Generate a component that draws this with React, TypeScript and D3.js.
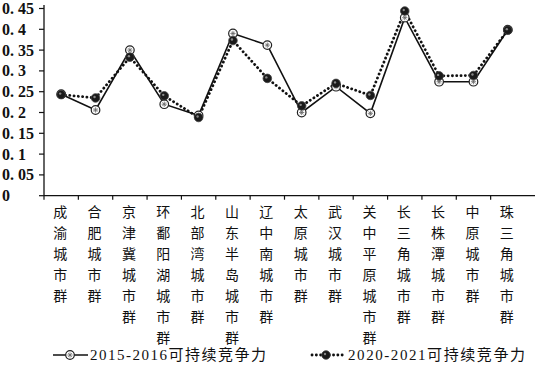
import { useRef, useEffect } from "react"
import * as d3 from "d3"

const categories = ["成渝城市群", "合肥城市群", "京津冀城市群", "环鄱阳湖城市群", "北部湾城市群", "山东半岛城市群", "辽中南城市群", "太原城市群", "武汉城市群", "关中平原城市群", "长三角城市群", "长株潭城市群", "中原城市群", "珠三角城市群"]
const series2015 = [0.244, 0.206, 0.35, 0.22, 0.193, 0.39, 0.362, 0.2, 0.262, 0.198, 0.428, 0.274, 0.274, 0.399]
const series2020 = [0.243, 0.235, 0.333, 0.24, 0.188, 0.373, 0.282, 0.216, 0.27, 0.241, 0.444, 0.288, 0.289, 0.398]
const yTicks = [0, 0.05, 0.1, 0.15, 0.2, 0.25, 0.3, 0.35, 0.4, 0.45]
const yTickLabels = ["0", "0.\u00a005", "0.\u00a01", "0.\u00a015", "0.\u00a02", "0.\u00a025", "0.\u00a03", "0.\u00a035", "0.\u00a04", "0.\u00a045"]
const legendLabels = ["2015-2016可持续竞争力", "2020-2021可持续竞争力"]

const serif = "'Liberation Serif', 'Noto Sans CJK SC', serif"
const cjk = "'Noto Sans CJK SC', serif"

export default function App() {
    const svgRef = useRef<SVGSVGElement>(null)
    useEffect(() => {
        const width = 535, height = 374
        const svg = d3.select(svgRef.current)
        svg.selectAll("*").remove()
        svg.attr("width", width).attr("height", height)

        const x = d3.scaleBand().domain(categories).range([44, 525])
        const y = d3.scaleLinear().domain([0, 0.45]).range([195.7, 8.5])
        const cx = (d: string) => (x(d) as number) + x.bandwidth() / 2

        // axes
        svg.append("line").attr("x1", 44).attr("x2", 535).attr("y1", y(0)).attr("y2", y(0))
            .attr("stroke", "#111").attr("stroke-width", 1.3)
        svg.append("line").attr("x1", 44).attr("x2", 44).attr("y1", y(0)).attr("y2", 5)
            .attr("stroke", "#111").attr("stroke-width", 1.3)
        svg.selectAll(".ytick").data(yTicks).enter().append("line")
            .attr("x1", 39).attr("x2", 44).attr("y1", d => y(d)).attr("y2", d => y(d))
            .attr("stroke", "#111").attr("stroke-width", 1.2)
        svg.selectAll(".ylab").data(yTicks).enter().append("text")
            .attr("x", 2).attr("y", d => y(d) + 5.5)
            .attr("font-family", serif).attr("font-size", 16).attr("font-weight", "bold")
            .attr("fill", "#111")
            .text((_, i) => yTickLabels[i])
        svg.selectAll(".xtick").data(categories).enter().append("line")
            .attr("x1", d => x(d) as number).attr("x2", d => x(d) as number)
            .attr("y1", y(0)).attr("y2", y(0) + 4)
            .attr("stroke", "#111").attr("stroke-width", 1.2)

        // vertical category labels
        const labels = svg.selectAll(".xlab").data(categories).enter().append("g")
            .attr("transform", d => `translate(${cx(d) - 1},0)`)
        labels.each(function (d) {
            const g = d3.select(this)
            Array.from(d).forEach((ch, i) => {
                g.append("text").attr("x", 0).attr("y", 217 + i * 21)
                    .attr("text-anchor", "middle").attr("font-family", cjk)
                    .attr("font-size", 14).attr("fill", "#111").text(ch)
            })
        })

        const line = d3.line<number>().x((_, i) => cx(categories[i])).y(d => y(d))

        // 2015 solid
        svg.append("path").attr("d", line(series2015)).attr("fill", "none")
            .attr("stroke", "#111").attr("stroke-width", 1.6)
        // 2020 dotted
        svg.append("path").attr("d", line(series2020)).attr("fill", "none")
            .attr("stroke", "#111").attr("stroke-width", 2.8)
            .attr("stroke-dasharray", "0.1 4.2").attr("stroke-linecap", "round")

        const solidMarker = (g: any, px: number, py: number) => {
            g.append("circle").attr("cx", px).attr("cy", py).attr("r", 4.3)
                .attr("fill", "#fff").attr("stroke", "#222").attr("stroke-width", 1.2)
            for (let k = 0; k < 4; k++) {
                const a = k * Math.PI / 4
                g.append("line").attr("x1", px - 2.6 * Math.cos(a)).attr("x2", px + 2.6 * Math.cos(a))
                    .attr("y1", py - 2.6 * Math.sin(a)).attr("y2", py + 2.6 * Math.sin(a))
                    .attr("stroke", "#666").attr("stroke-width", 0.8)
            }
        }
        const dotMarker = (g: any, px: number, py: number) => {
            g.append("circle").attr("cx", px).attr("cy", py).attr("r", 4.3)
                .attr("fill", "#1a1a1a").attr("stroke", "#444").attr("stroke-width", 0.8)
            g.append("circle").attr("cx", px - 1).attr("cy", py - 1).attr("r", 1.2).attr("fill", "#888")
        }

        const marks = svg.append("g")
        series2015.forEach((v, i) => solidMarker(marks, cx(categories[i]), y(v)))
        series2020.forEach((v, i) => dotMarker(marks, cx(categories[i]), y(v)))

        // legend
        const ly = 355
        svg.append("line").attr("x1", 53).attr("x2", 88).attr("y1", ly).attr("y2", ly)
            .attr("stroke", "#111").attr("stroke-width", 1.6)
        solidMarker(svg, 70, ly)
        svg.append("text").attr("x", 90).attr("y", ly + 5).attr("font-family", serif)
            .attr("font-size", 15).attr("fill", "#111")
            .attr("textLength", 176).attr("lengthAdjust", "spacing").text(legendLabels[0])
        svg.append("line").attr("x1", 312).attr("x2", 344).attr("y1", ly).attr("y2", ly)
            .attr("stroke", "#111").attr("stroke-width", 2.8)
            .attr("stroke-dasharray", "0.1 4.2").attr("stroke-linecap", "round")
        dotMarker(svg, 326, ly)
        svg.append("text").attr("x", 348).attr("y", ly + 5).attr("font-family", serif)
            .attr("font-size", 15).attr("fill", "#111")
            .attr("textLength", 177).attr("lengthAdjust", "spacing").text(legendLabels[1])
    }, [])
    return (
        <div style={{ position: "absolute", left: 0, top: 0, background: "#fff" }}>
            <svg ref={svgRef} style={{ display: "block" }}></svg>
        </div>
    )
}
